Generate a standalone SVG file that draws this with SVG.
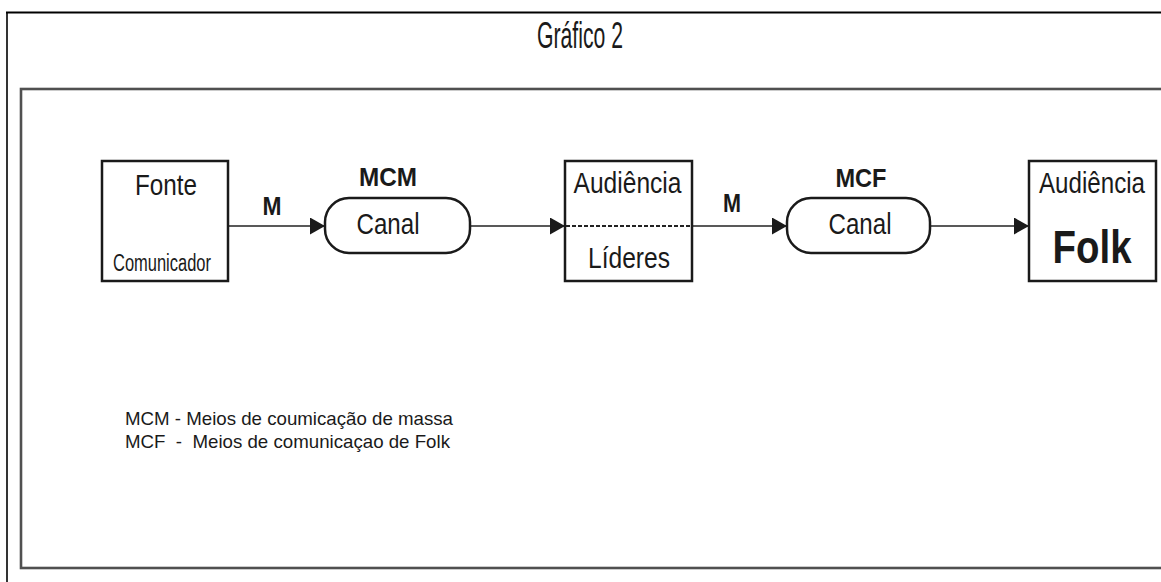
<svg xmlns="http://www.w3.org/2000/svg" width="1161" height="582" viewBox="0 0 1161 582">
<style>
text{font-family:"Liberation Sans",Arial,sans-serif;fill:#1a1a1a}
.r{font-size:30px}
.b{font-size:26px;font-weight:bold}
.box{fill:#fff;stroke:#1a1a1a;stroke-width:2.5}
.ln{fill:none;stroke:#222;stroke-width:1.6}
.leg{font-size:19px;white-space:pre}
</style>
<defs>
<marker id="ah" markerUnits="userSpaceOnUse" markerWidth="16" markerHeight="18" refX="15" refY="8.5" orient="auto">
<path d="M0,0 L15,8.5 L0,17 Z" fill="#1a1a1a"/>
</marker>
</defs>
<rect width="1161" height="582" fill="#fff"/>
<g id="frame">
<line x1="6" y1="12.5" x2="1161" y2="12.5" stroke="#000" stroke-width="2.2"/>
<line x1="7" y1="12" x2="7" y2="582" stroke="#000" stroke-width="1.6"/>
<rect x="21" y="89" width="1160" height="479" fill="none" stroke="#505050" stroke-width="2.6"/>
</g>
<text id="title" x="580" y="48" font-size="37" text-anchor="middle" textLength="86" lengthAdjust="spacingAndGlyphs">Gráfico 2</text>
<g id="connectors">
<line class="ln" x1="229" y1="226" x2="325" y2="226" marker-end="url(#ah)"/>
<line class="ln" x1="470" y1="226" x2="565" y2="226" marker-end="url(#ah)"/>
<line class="ln" x1="692" y1="226" x2="787" y2="226" marker-end="url(#ah)"/>
<line class="ln" x1="930" y1="226" x2="1029" y2="226" marker-end="url(#ah)"/>
<text class="b" x="272" y="215" text-anchor="middle" textLength="19" lengthAdjust="spacingAndGlyphs">M</text>
<text class="b" x="732" y="212" text-anchor="middle" textLength="18" lengthAdjust="spacingAndGlyphs">M</text>
</g>
<g id="fonte">
<rect class="box" x="102" y="161" width="126" height="120"/>
<text class="r" x="166" y="195" text-anchor="middle" textLength="62" lengthAdjust="spacingAndGlyphs">Fonte</text>
<text x="162" y="271" font-size="23" text-anchor="middle" textLength="98" lengthAdjust="spacingAndGlyphs">Comunicador</text>
</g>
<g id="canal1">
<text class="b" x="388" y="186" text-anchor="middle" textLength="58" lengthAdjust="spacingAndGlyphs">MCM</text>
<rect class="box" x="325" y="198" width="145" height="55" rx="24" ry="24"/>
<text class="r" x="388" y="234" text-anchor="middle" textLength="63" lengthAdjust="spacingAndGlyphs">Canal</text>
</g>
<g id="lideres">
<rect class="box" x="565" y="161" width="127" height="120"/>
<line x1="566" y1="226" x2="691" y2="226" stroke="#222" stroke-width="1.8" stroke-dasharray="4,2"/>
<text class="r" x="627.5" y="193" font-size="29" text-anchor="middle" textLength="108" lengthAdjust="spacingAndGlyphs">Audiência</text>
<text class="r" x="629" y="268" text-anchor="middle" textLength="82" lengthAdjust="spacingAndGlyphs">Líderes</text>
</g>
<g id="canal2">
<text class="b" x="861" y="187" text-anchor="middle" textLength="51" lengthAdjust="spacingAndGlyphs">MCF</text>
<rect class="box" x="787" y="198" width="143" height="55" rx="24" ry="24"/>
<text class="r" x="860" y="234" text-anchor="middle" textLength="63" lengthAdjust="spacingAndGlyphs">Canal</text>
</g>
<g id="folk">
<rect class="box" x="1029" y="161" width="127" height="120"/>
<text class="r" x="1092" y="193" text-anchor="middle" textLength="106" lengthAdjust="spacingAndGlyphs">Audiência</text>
<text x="1092" y="263" font-size="46" font-weight="bold" text-anchor="middle" textLength="79" lengthAdjust="spacingAndGlyphs">Folk</text>
</g>
<g id="legend">
<text class="leg" x="125" y="425" textLength="328" lengthAdjust="spacingAndGlyphs">MCM - Meios de coumicação de massa</text>
<text class="leg" x="125" y="448" textLength="325" lengthAdjust="spacingAndGlyphs" xml:space="preserve">MCF  -  Meios de comunicaçao de Folk</text>
</g>
</svg>
